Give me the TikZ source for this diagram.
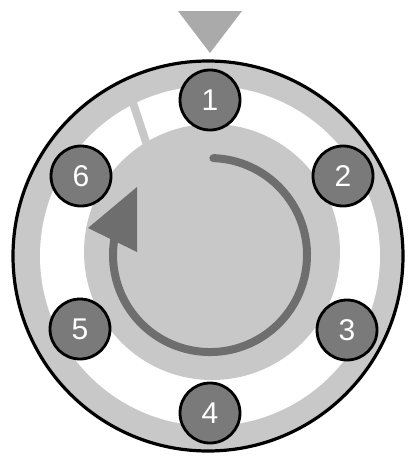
\documentclass[tikz,border=0pt]{standalone}
\usepackage{fontspec}
\setmainfont{Liberation Sans}
\definecolor{bandgray}{HTML}{C8C8C8}
\definecolor{discgray}{HTML}{C8C8C8}
\definecolor{arcgray}{HTML}{6E6E6E}
\definecolor{nodegray}{HTML}{7A7A7A}
\definecolor{markgray}{HTML}{AAAAAA}
\tikzset{
  slot/.style={circle, draw=black, line width=2.8pt, fill=nodegray, minimum size=60pt, inner sep=0pt,
    text=white, font=\fontsize{30}{30}\selectfont},
}
\begin{document}
\begin{tikzpicture}[x=1pt,y=-1pt]
\useasboundingbox (0,0) rectangle (409,456);
% outer gray band
\fill[bandgray] (208,256) circle (195);
% white track
\fill[white] (210,256) circle (170);
% divider bar
\draw[bandgray, line width=8pt] (128,88) -- (147,145);
% inner disc
\fill[discgray] (212,252) circle (128);
% rotation arc
\draw[arcgray, line width=8pt, line cap=round] (213.4,158.1) arc[start angle=-88, end angle=189, radius=97];
\fill[arcgray] (137,187) -- (88,228) -- (137,252) -- cycle;
% outer ring outline
\draw[black, line width=3.2pt] (208,256) circle (195);
% slots
\node[slot] (n1) at (210,100) {1};
\node[slot] (n2) at (343,176) {2};
\node[slot] (n3) at (347,330) {3};
\node[slot] (n4) at (210,413) {4};
\node[slot] (n5) at (80,329) {5};
\node[slot] (n6) at (81,176) {6};
% top marker
\fill[markgray] (178,11) -- (242,11) -- (210,53) -- cycle;
\end{tikzpicture}
\end{document}
